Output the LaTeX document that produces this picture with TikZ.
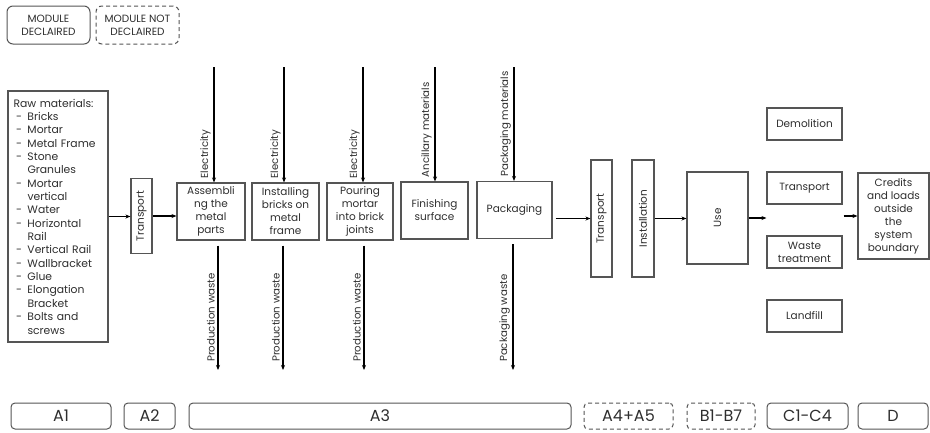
\documentclass[tikz,border=0pt]{standalone}
\usepackage{fontspec}
\setmainfont{Poppins}
\usetikzlibrary{arrows.meta,calc}
\definecolor{bd}{HTML}{555555}
\definecolor{tx}{HTML}{2E2E2E}
\newcommand\rmi[1]{\makebox[14pt][l]{\hspace{2.5pt}-}#1}
\newcommand\rmc[1]{\hspace*{14pt}#1}
\begin{document}
\begin{tikzpicture}[x=1pt,y=-1pt,
  box/.style={draw=bd, line width=1.1pt, text=tx, inner sep=1pt, align=center, font=\fontsize{10.5}{13}\selectfont},
  mod/.style={draw=bd, line width=1pt, rounded corners=4pt, text=tx, font=\fontsize{16}{18}\selectfont, minimum height=26pt, inner sep=0pt},
  nmod/.style={mod, dash pattern=on 4pt off 3pt},
  leg/.style={mod, rounded corners=6pt, font=\fontsize{10.5}{13.3}\selectfont, align=center, minimum width=83pt, minimum height=38pt},
  arr/.style={-{Stealth[length=5pt,width=4pt]}, line width=1.1pt, black},
  vlbl/.style={anchor=south east, inner sep=0pt, text=tx, font=\fontsize{10.2}{11}\selectfont},
]
\useasboundingbox (0,0) rectangle (930,432);

% legend
\node[leg] (leg1) at (48.5,25) {MODULE\\DECLAIRED};
\node[leg, dash pattern=on 4pt off 3pt] (leg2) at (137.5,25) {MODULE NOT\\DECLAIRED};

% raw materials
\node[box, minimum width=100pt, minimum height=251pt, text width=89pt, align=left, font=\fontsize{10.8}{13.35}\selectfont] (raw) at (58,216.5) {Raw materials:\\
\rmi{Bricks}\\ \rmi{Mortar}\\ \rmi{Metal Frame}\\ \rmi{Stone}\\ \rmc{Granules}\\ \rmi{Mortar}\\ \rmc{vertical}\\ \rmi{Water}\\ \rmi{Horizontal}\\ \rmc{Rail}\\ \rmi{Vertical Rail}\\ \rmi{Wallbracket}\\ \rmi{Glue}\\ \rmi{Elongation}\\ \rmc{Bracket}\\ \rmi{Bolts and}\\ \rmc{screws}};

\node[box, minimum width=21pt, minimum height=75pt] (tr1) at (141.5,216) {\rotatebox{90}{Transport}};

% A3 processes
\node[box, minimum width=68pt, minimum height=57pt] (asm) at (211,211.5) {Assembli\\ng the\\metal\\parts};
\node[box, minimum width=67pt, minimum height=57pt] (ins) at (285.5,211.5) {Installing\\bricks on\\metal\\frame};
\node[box, minimum width=66pt, minimum height=57pt] (pour) at (360,211.5) {Pouring\\mortar\\into brick\\joints};
\node[box, minimum width=67pt, minimum height=57pt] (fin) at (434.5,210.5) {Finishing\\surface};
\node[box, minimum width=75pt, minimum height=57pt] (pack) at (514.5,210) {Packaging};

% inputs
\coordinate (e1) at (214,67);
\coordinate (e2) at (284,67);
\coordinate (e3) at (363,67);
\coordinate (e4) at (435,67);
\coordinate (e5) at (514,67);
\draw[arr] (e1) -- (e1 |- asm.north);
\draw[arr] (e2) -- (e2 |- ins.north);
\draw[arr] (e3) -- (e3 |- pour.north);
\draw[arr] (e4) -- (e4 |- fin.north);
\draw[arr] (e5) -- (e5 |- pack.north);
\node[vlbl] (l1) at ($(e1 |- asm.north)+(-3,-4)$) {\rotatebox{90}{Electricity}};
\node[vlbl] (l2) at ($(e2 |- ins.north)+(-3,-4)$) {\rotatebox{90}{Electricity}};
\node[vlbl] (l3) at ($(e3 |- pour.north)+(-3,-4)$) {\rotatebox{90}{Electricity}};
\node[vlbl] (l4) at ($(e4 |- fin.north)+(-3,-4)$) {\rotatebox{90}{Ancillary materials}};
\node[vlbl] (l5) at ($(e5 |- pack.north)+(-3,-4)$) {\rotatebox{90}{Packaging materials}};

% outputs
\coordinate (w1) at (218,370);
\coordinate (w2) at (283,370);
\coordinate (w3) at (364,370);
\coordinate (w5) at (513,370);
\draw[arr, shorten <=5pt] (w1 |- asm.south) -- (w1);
\draw[arr, shorten <=5pt] (w2 |- ins.south) -- (w2);
\draw[arr, shorten <=5pt] (w3 |- pour.south) -- (w3);
\draw[arr, shorten <=5pt] (w5 |- pack.south) -- (w5);
\node[vlbl] (o1) at ($(w1)+(-3,-8)$) {\rotatebox{90}{Production waste}};
\node[vlbl] (o2) at ($(w2)+(-3,-8)$) {\rotatebox{90}{Production waste}};
\node[vlbl] (o3) at ($(w3)+(-3,-8)$) {\rotatebox{90}{Production waste}};
\node[vlbl] (o5) at ($(w5)+(-3,-8)$) {\rotatebox{90}{Packaging waste}};

% A4-A5, B, C, D
\node[box, minimum width=21pt, minimum height=117pt] (tr2) at (601.5,218.5) {\rotatebox{90}{Transport}};
\node[box, minimum width=22pt, minimum height=117pt] (inst) at (643,218.5) {\rotatebox{90}{Installation}};
\node[box, minimum width=61pt, minimum height=92pt] (use) at (717.5,218) {\rotatebox{90}{Use}};
\node[box, minimum width=75pt, minimum height=32pt] (dem) at (804.5,124) {Demolition};
\node[box, minimum width=75pt, minimum height=32pt] (trc) at (804.5,188) {Transport};
\node[box, minimum width=75pt, minimum height=32pt] (wst) at (804.5,252) {Waste\\treatment};
\node[box, minimum width=75pt, minimum height=32pt] (lnd) at (804.5,316) {Landfill};
\node[box, minimum width=71pt, minimum height=86pt] (cred) at (893.5,216) {Credits\\and loads\\outside\\the\\system\\boundary};

% main flow arrows
\draw[arr] (raw.east) -- (raw.east -| tr1.west);
\draw[arr] (tr1.east) -- (tr1.east -| asm.west);
\draw[arr, shorten <=3pt] (tr2.west -| pack.east) -- (tr2.west);
\draw[arr] (inst.east) -- (inst.east -| use.west);
\draw[arr] (use.east) -- (use.east -| dem.west);
\draw[arr, shorten <=1pt] (dem.east |- cred.west) -- (cred.west);

% modules row
\node[mod, minimum width=100pt] (a1) at (61,416) {A1};
\node[mod, minimum width=51pt] (a2) at (149.5,416) {A2};
\node[mod, minimum width=382pt] (a3) at (380,416) {A3};
\node[nmod, minimum width=89pt] (a45) at (628.5,416) {A4+A5};
\node[nmod, minimum width=68pt] (b17) at (721,416) {B1-B7};
\node[mod, minimum width=81pt] (c14) at (807.5,416) {C1-C4};
\node[mod, minimum width=70pt] (dd) at (893,416) {D};
\end{tikzpicture}
\end{document}
